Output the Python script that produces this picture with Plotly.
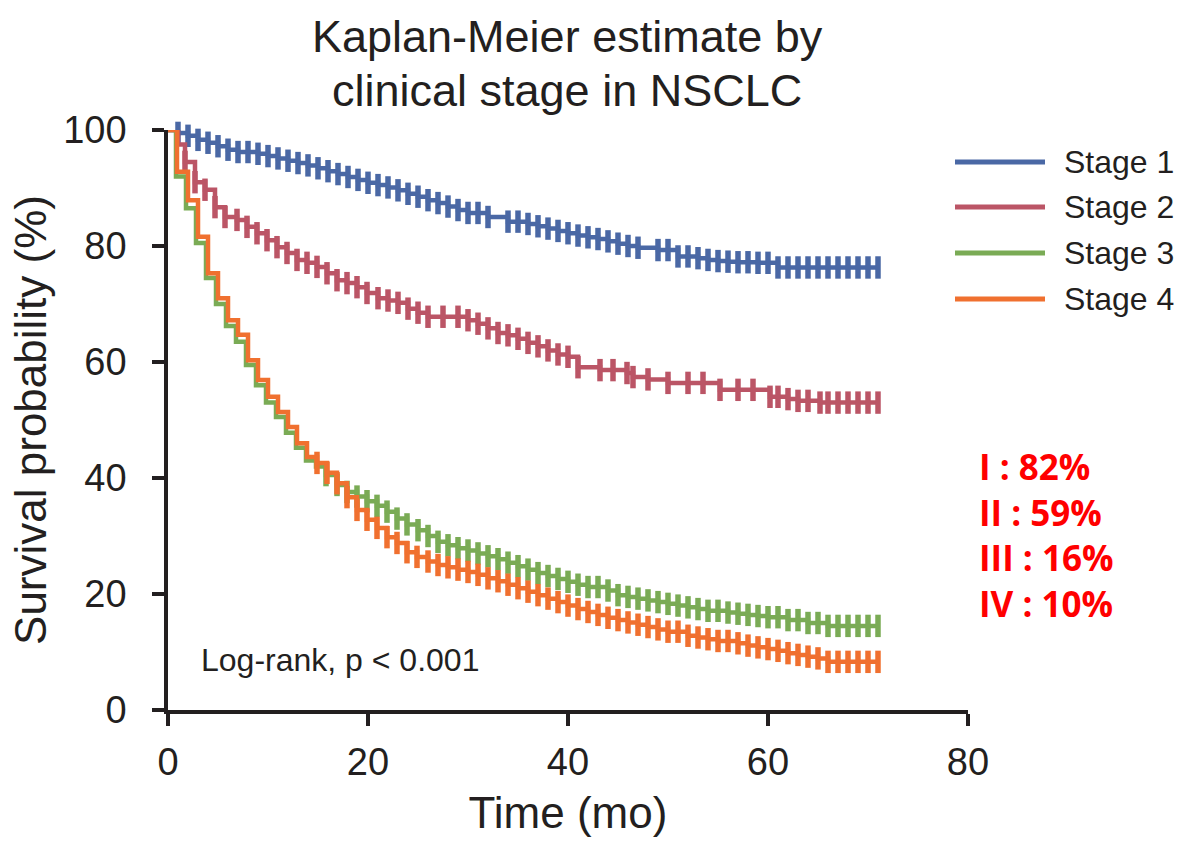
import numpy as np
import plotly.graph_objects as go

# ---- data ----
stages = ["Stage 1", "Stage 2", "Stage 3", "Stage 4"]
colors = ["#4a68a5", "#bb5566", "#7aab55", "#f0702f"]

t1 = [0, 1, 2, 3, 4, 5, 6, 7, 9, 10, 11, 12, 13, 14, 15, 16, 17, 18, 19, 20,
      21, 22, 23, 24, 25, 26, 27, 28, 29, 30, 32, 34, 36, 37, 38, 39, 40, 41, 42, 43,
      44, 45, 46, 47, 49, 51, 53, 54, 55, 56, 57, 58, 59, 61, 71]
s1 = [100, 99.5, 99.0, 98.3, 97.8, 97.2, 96.6, 96.2, 95.9, 95.5, 95.1, 94.7, 94.3, 93.9, 93.4, 92.9, 92.4, 91.9, 91.4, 90.9,
      90.5, 90.1, 89.6, 89.0, 88.5, 87.9, 87.4, 86.8, 86.2, 85.7, 85.0, 84.2, 83.8, 83.4, 83.0, 82.6, 82.2, 81.8, 81.5, 81.2,
      80.8, 80.4, 80.0, 79.7, 79.3, 78.2, 77.9, 77.6, 77.4, 77.3, 77.2, 77.2, 77.1, 76.3, 76.3]

t2 = [0, 1.0, 1.7, 2.7, 3.7, 4.7, 5.7, 6.9, 7.9, 8.9, 9.9, 10.9, 11.9, 12.9, 13.9, 14.9, 15.9, 16.9, 17.9, 18.9,
      19.9, 21, 22, 23, 24, 25, 26, 30, 31, 32, 33, 34, 35, 36, 37, 38, 39, 40, 41, 43.2,
      45.9, 46.5, 48, 50, 55.2, 60.2, 62, 63, 65.2, 71]
s2 = [100, 97.5, 94.5, 91.0, 89.7, 86.7, 85.0, 84.5, 83.3, 82.2, 81.0, 79.8, 78.8, 77.6, 77.1, 76.4, 75.3, 74.1, 73.6, 72.9,
      71.9, 71.0, 70.6, 70.2, 69.2, 68.5, 67.8, 67.2, 66.6, 65.8, 65.0, 64.6, 64.0, 63.3, 62.7, 62.0, 61.3, 60.9, 59.1, 58.6,
      58.1, 57.4, 57.0, 56.4, 55.2, 54.0, 53.6, 53.3, 53.0, 53.0]

t3 = [0, 0.8, 1.8, 2.8, 3.8, 4.8, 5.8, 6.8, 7.8, 8.8, 9.8, 10.8, 11.8, 12.8, 13.8, 14.8, 15.8, 16.9, 17.9, 18.9,
      19.9, 20.9, 21.9, 22.9, 23.9, 25, 26, 27, 28, 29, 30, 31, 32, 33, 34, 35, 36, 37, 38, 39,
      40, 41, 42, 44, 45, 46, 47, 48, 49, 50, 51, 52, 53, 54, 56, 57, 58, 59, 60, 62, 64, 66, 71]
s3 = [100, 92.0, 86.5, 80.5, 74.5, 70.0, 66.2, 63.5, 59.5, 56.0, 53.0, 50.5, 47.8, 45.2, 43.0, 42.0, 40.5, 38.8, 37.6, 36.8,
      36.0, 35.2, 34.2, 33.0, 32.0, 31.0, 30.0, 29.0, 28.4, 27.9, 27.5, 27.0, 26.5, 26.0, 25.4, 24.8, 24.2, 23.6, 23.1, 22.6,
      22.1, 21.6, 21.2, 20.6, 19.8, 19.5, 19.2, 18.9, 18.6, 18.3, 18.0, 17.7, 17.4, 17.1, 16.8, 16.6, 16.4, 16.2, 16.0, 15.5,
      15.0, 14.5, 14.5]

t4 = [0, 0.9, 2.0, 3.0, 4.0, 5.0, 6.0, 7.0, 8.0, 9.0, 10.0, 11.0, 12.0, 12.9, 13.9, 14.9, 15.9, 16.9, 17.9, 18.9,
      19.9, 20.9, 21.9, 22.9, 23.9, 24.9, 26, 27, 28, 29, 30, 31, 32, 33, 34, 35, 36, 37, 38, 39,
      40, 41, 42, 43, 44, 45, 46, 47, 48, 49, 50, 52, 53, 54, 55, 57, 58, 59, 60, 61, 62, 63, 64, 65, 66, 71]
s4 = [100, 92.8, 87.9, 81.6, 75.3, 71.0, 67.2, 64.7, 60.3, 56.9, 54.0, 51.4, 48.8, 46.0, 43.6, 42.6, 40.9, 39.1, 36.7, 34.5,
      32.8, 31.4, 29.8, 28.8, 27.2, 26.4, 25.6, 25.0, 24.6, 24.2, 23.8, 23.3, 22.7, 22.2, 21.6, 21.0, 20.4, 19.8, 19.2, 18.6,
      18.0, 17.4, 16.9, 16.4, 15.9, 15.5, 15.1, 14.7, 14.3, 13.9, 13.5, 12.8, 12.5, 12.2, 11.9, 11.5, 11.1, 10.8, 10.5, 10.2,
      9.8, 9.5, 9.2, 8.9, 8.3, 8.3]

# censored observations: marks start time and extra censor times in flat stretches
censor_start = [1, 1.5, 15, 14]
c1_extra = [8, 31, 35, 50, 52, 60, 62, 63, 64, 65, 66, 67, 68, 69, 70, 71]
c2_extra = [27.5, 29, 44.5, 52, 53.5, 57, 58.5, 61, 64, 66, 67, 68, 69, 70, 71]
c3_extra = [43, 55, 61, 63, 65, 67, 68, 69, 70, 71]
c4_extra = [51, 56, 67, 68, 69, 70, 71]

five_year = ["I : 82%", "II : 59%", "III : 16%", "IV : 10%"]
title_lines = ["Kaplan-Meier estimate by", "clinical stage in NSCLC"]
x_ticks = [0, 20, 40, 60, 80]
y_ticks = [0, 20, 40, 60, 80, 100]

times = [t1, t2, t3, t4]
survs = [s1, s2, s3, s4]
extras = [c1_extra, c2_extra, c3_extra, c4_extra]

FONT = "Liberation Sans, Arial, sans-serif"
INK = "#231f20"

fig = go.Figure()
for name, col, t, s, c0, ex in zip(stages, colors, times, survs, censor_start, extras):
    fig.add_trace(go.Scatter(
        x=t, y=s, mode="lines", name=name, line=dict(color=col, width=4.5, shape="hv"),
        showlegend=False, hoverinfo="skip"))
    ta = np.array(t, dtype=float)
    sa = np.array(s, dtype=float)
    ct = sorted([v for v in t[1:-1] if v >= c0] + ex)
    idx = np.searchsorted(ta, ct, side="right") - 1
    fig.add_trace(go.Scatter(
        x=ct, y=sa[idx], mode="markers", showlegend=False, hoverinfo="skip", cliponaxis=False,
        marker=dict(symbol="line-ns", size=16, line=dict(color=col, width=5.5))))

# ---- layout ----
L, R, T, B = 168, 216, 130, 135
W, H = 1184, 845
pw, ph = W - L - R, H - T - B

def px(x):
    return (x - L) / pw

def py(y):
    return (H - B - y) / ph

axis_common = dict(
    showgrid=False, zeroline=False, showline=True, linecolor=INK, linewidth=3.5,
    ticks="outside", ticklen=12, tickwidth=3.5, tickcolor=INK,
    tickfont=dict(family=FONT, size=38, color=INK),
)

fig.update_layout(
    width=W, height=H,
    margin=dict(l=L, r=R, t=T, b=B),
    paper_bgcolor="white", plot_bgcolor="white",
    xaxis=dict(range=[0, 80], tickvals=x_ticks, ticklabelstandoff=4,
               title=dict(text="Time (mo)", font=dict(family=FONT, size=44, color=INK), standoff=16),
               **axis_common),
    yaxis=dict(range=[0, 100], tickvals=y_ticks, ticklabelstandoff=18,
               title=dict(text="Survival probability (%)", font=dict(family=FONT, size=44, color=INK), standoff=4),
               **axis_common),
    showlegend=False,
)

# title (two centred lines)
for line, yy in zip(title_lines, [36, 90]):
    fig.add_annotation(text=line, xref="paper", yref="paper", x=px(567), y=py(yy),
                       xanchor="center", yanchor="middle", showarrow=False,
                       font=dict(family=FONT, size=45, color=INK))

# legend drawn at the top right
leg_y = [162, 207, 253, 299]
for name, col, yy in zip(stages, colors, leg_y):
    fig.add_shape(type="line", xref="paper", yref="paper",
                  x0=px(955), x1=px(1045), y0=py(yy), y1=py(yy),
                  line=dict(color=col, width=5))
    fig.add_annotation(text=name, xref="paper", yref="paper", x=px(1062), y=py(yy),
                       xanchor="left", yanchor="middle", showarrow=False,
                       font=dict(family=FONT, size=32, color=INK))

# 5-year survival labels (one block of four lines)
fig.add_annotation(text="<br>".join("<b>" + lab + "</b>" for lab in five_year),
                   xref="paper", yref="paper", x=px(977), y=py(535),
                   xanchor="left", yanchor="middle", align="left", showarrow=False,
                   font=dict(family="Open Sans, Noto Sans, sans-serif", size=35, color="#ff0000"))

fig.add_annotation(text="Log-rank, p < 0.001", xref="paper", yref="paper", x=px(199), y=py(660),
                   xanchor="left", yanchor="middle", showarrow=False,
                   font=dict(family=FONT, size=32, color=INK))

fig.write_html("out.html")
